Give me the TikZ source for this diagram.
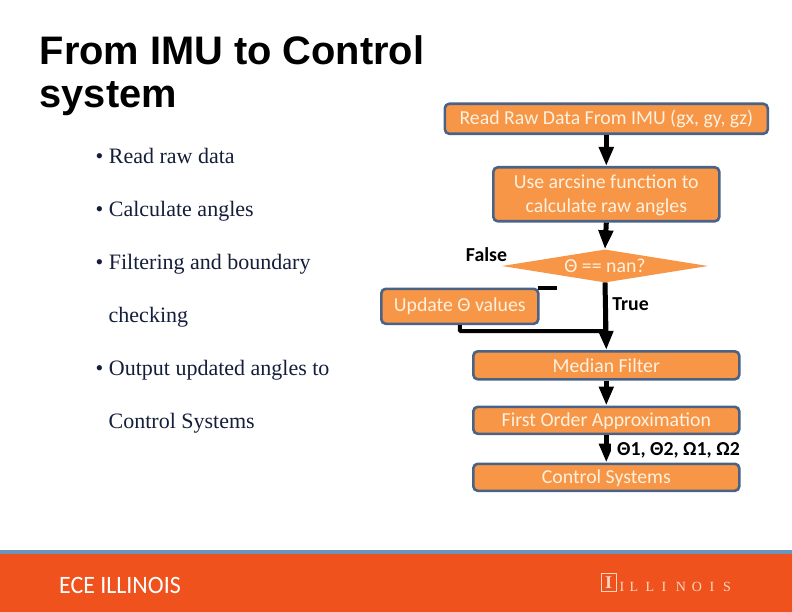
\documentclass[tikz,border=0pt]{standalone}
\usepackage{fontspec}
\setmainfont{Liberation Serif}
\newfontfamily\arialf{Liberation Sans}
\newfontfamily\calf{Carlito}
\usetikzlibrary{shapes.geometric,arrows.meta}
\definecolor{boxfill}{HTML}{F79646}
\definecolor{boxedge}{HTML}{4A6285}
\definecolor{bandorange}{HTML}{F0521E}
\definecolor{bandblue}{HTML}{6C95BC}
\definecolor{boxtext}{HTML}{FDF1E0}
\definecolor{logotext}{HTML}{F8D8C0}
\definecolor{bullettext}{HTML}{141E3A}
\tikzset{
  x=1pt,y=-1pt,
  flow/.style={draw=boxedge,line width=2.6pt,fill=boxfill,rounded corners=4.5pt,inner sep=0pt,
    text=boxtext,font=\calf\fontsize{19.8}{24.5}\selectfont,align=center,anchor=north west},
  lowtext/.style={text height=16pt,text depth=4pt},
  decide/.style={diamond,aspect=6.4,fill=boxfill,inner sep=0pt,text=boxtext,font=\calf\fontsize{19.8}{24}\selectfont},
  flag/.style={font=\calf\bfseries\fontsize{19.8}{22}\selectfont,text=black,inner sep=0pt},
  bullet/.style={font=\fontsize{22}{26}\selectfont,anchor=base west,inner sep=0pt,text=bullettext},
  titletext/.style={font=\arialf\bfseries\fontsize{39.8}{43}\selectfont,anchor=base west,inner sep=0pt,text=black},
  flowarrow/.style={draw=black,line width=5pt,-{Triangle[width=14pt,length=19pt]},shorten >=0pt},
  plainline/.style={draw=black,line width=4pt},
  logoletter/.style={font=\fontsize{14}{14}\selectfont,text=logotext,inner sep=0pt},
}
\begin{document}
\begin{tikzpicture}
\useasboundingbox (0,0) rectangle (792,612);
% footer
\fill[bandorange] (0,553) rectangle (792,612);
\fill[bandblue] (0,550) rectangle (792,554);
% title and bullets
\node[titletext] (t1) at (39.5,65) {From IMU to Control};
\node[titletext] (t2) at (39.5,108) {system};
\node[bullet] (b1) at (95.5,163.7) {• Read raw data};
\node[bullet] (b2) at (95.5,216.7) {• Calculate angles};
\node[bullet] (b3) at (95.5,269.7) {• Filtering and boundary};
\node[bullet] (b3b) at (108.5,322.7) {checking};
\node[bullet] (b4) at (95.5,375.2) {• Output updated angles to};
\node[bullet] (b4b) at (108.5,428.2) {Control Systems};
% flow boxes
\node[flow,lowtext,minimum width=323pt,minimum height=30pt] (raw) at (443.5,102.5) {Read Raw Data From IMU (gx, gy, gz)};
\node[flow,minimum width=226pt,minimum height=54pt] (arc) at (492,166) {\rule{0pt}{16pt}Use arcsine function to\\calculate raw angles};
\node[decide,minimum width=206pt,minimum height=33pt] (nan) at (605,266) {Θ == nan?};
\node[flow,minimum width=157pt,minimum height=35pt] (upd) at (380,287.5) {Update Θ values};
\node[flow,minimum width=266pt,minimum height=28pt] (med) at (472,350) {Median Filter};
\node[flow,lowtext,minimum width=266pt,minimum height=27pt] (foa) at (472,405.5) {First Order Approximation};
\node[flow,lowtext,minimum width=266pt,minimum height=27pt] (ctl) at (472,462.5) {Control Systems};
% connectors
\coordinate (stub) at (556.5,288);
\draw[plainline] (upd.north east) ++(-2,0.5) -- (stub);
\draw[plainline,rounded corners=1pt] (upd.south) -- ++(0,6) -| (nan.south);
\draw[flowarrow] (raw.south) -- (arc.north);
\draw[flowarrow] (arc.south) -- (nan.north);
\draw[flowarrow] (nan.south) -- (med.north);
\draw[flowarrow] (med.south) -- (foa.north);
\draw[flowarrow] (foa.south) -- (ctl.north);
% labels
\node[flag] (lf) at (486.5,254.5) {False};
\node[flag] (lt) at (630.5,304.5) {True};
\fill[white] (611,437) rectangle (740,461);
\node[flag,anchor=east] (lo) at (740,450) {Θ1, Θ2, Ω1, Ω2};
% footer text
\node[font=\calf\fontsize{25}{25}\selectfont,text=white,inner sep=0pt,anchor=west,xscale=0.956] (ece) at (59,585) {ECE ILLINOIS};
\node[draw=logotext,line width=0.9pt,minimum width=15pt,minimum height=18pt,inner sep=0pt,
  font=\fontsize{18}{18}\selectfont\bfseries,text=logotext] (logo) at (608.5,582.5) {I};
\foreach \c/\x in {I/622,L/634,L/650,I/664,N/681,O/697,I/712,S/727}
  \node[logoletter] at (\x,587) {\c};
\end{tikzpicture}
\end{document}
